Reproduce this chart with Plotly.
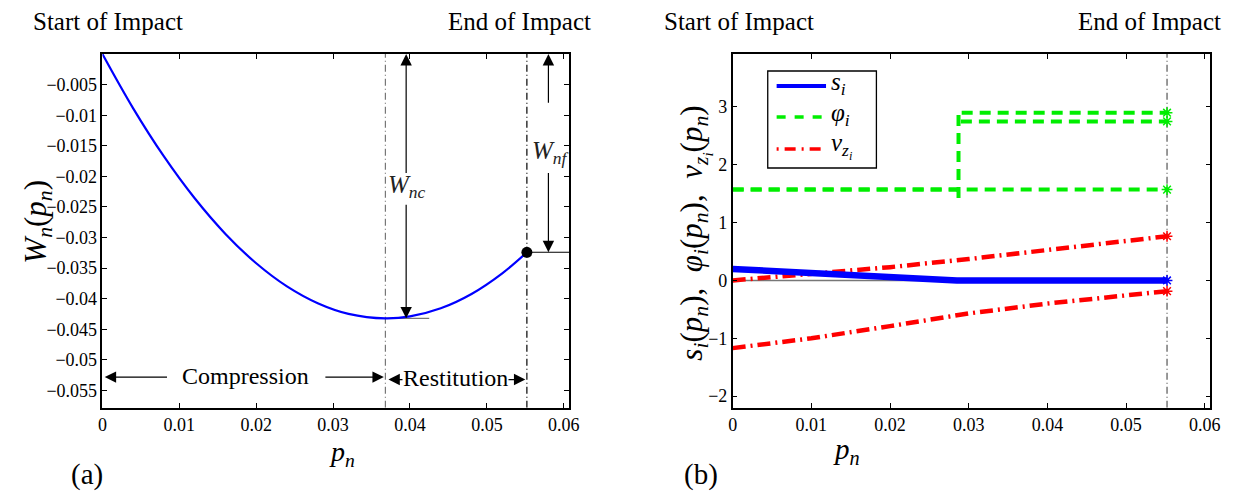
import plotly.graph_objects as go

# ---------------- data ----------------
# panel (a): normal work W_n vs normal impulse p_n
pn_a = [0, 0.004, 0.008, 0.012, 0.016, 0.020, 0.024, 0.028, 0.032, 0.0368,
        0.040, 0.044, 0.048, 0.052, 0.0552]
Wn = [0, -0.00888, -0.01674, -0.02358, -0.02940, -0.03420, -0.03798, -0.04073,
      -0.04247, -0.04321, -0.04288, -0.04155, -0.03921, -0.03584, -0.03241]
p_comp = 0.0368      # end of compression
p_end = 0.0552       # end of impact
W_c = -0.0432        # W_nc level
W_f = -0.0324        # W_nf level
x_max = 0.0607

# panel (b)
s1_p = [0, 0.0285, 0.0552]
s1_v = [0.20, 0.0, 0.0]
phi1_p = [0, 0.0552]
phi1_v = [1.5708, 1.5708]
phi2_p = [0, 0.0286, 0.0287, 0.0287, 0.0290, 0.0552]
phi2_v = [1.5708, 1.5708, 1.42, 2.92, 2.90, 2.90]
phi3_p = [0.0290, 0.0552]
phi3_v = [2.75, 2.75]
vz1_p = [0, 0.01, 0.02, 0.03, 0.04, 0.05, 0.0552]
vz1_v = [0, 0.11, 0.23, 0.37, 0.53, 0.68, 0.764]
vz2_p = [0, 0.01, 0.02, 0.03, 0.04, 0.05, 0.0552]
vz2_v = [-1.17, -1.00, -0.79, -0.57, -0.40, -0.26, -0.185]
end_vals = [0.0, -0.185, 0.764, 1.5708, 2.75, 2.90]
end_cols = ["#0000ff", "#ff0000", "#ff0000", "#00ee00", "#00ee00", "#00ee00"]

legend_names = ["<i>s<sub>i</sub></i>", "<i>\u03c6<sub>i</sub></i>", "<i>v<sub>z<sub>i</sub></sub></i>"]

xticks = [0, 0.01, 0.02, 0.03, 0.04, 0.05, 0.06]
xtick_text = ["0", "0.01", "0.02", "0.03", "0.04", "0.05", "0.06"]
yticks_a = [-0.005, -0.01, -0.015, -0.02, -0.025, -0.03, -0.035, -0.04, -0.045, -0.05, -0.055]
ytick_a_text = ["\u22120.005", "\u22120.01", "\u22120.015", "\u22120.02", "\u22120.025", "\u22120.03",
                "\u22120.035", "\u22120.04", "\u22120.045", "\u22120.05", "\u22120.055"]
yticks_b = [-2, -1, 0, 1, 2, 3]
ytick_b_text = ["\u22122", "\u22121", "0", "1", "2", "3"]

FONT = "Liberation Serif, Times New Roman, DejaVu Serif, serif"
W, H = 1238, 493
OFF = 8  # the page body margin shifts the figure by 8px

GREEN = "#00ee00"
RED = "#ff0000"
BLUE = "#0000ff"
gdash = "11px,7px"
rdash = "13px,5px,2px,5px"

fig = go.Figure()

# ---------------- panel (a) ----------------
fig.add_trace(go.Scatter(x=[p_comp, p_comp], y=[-0.0578, 0], mode="lines",
                         line=dict(color="#777777", width=1.2, dash="7px,3px,1px,3px"),
                         xaxis="x", yaxis="y"))
fig.add_trace(go.Scatter(x=[p_end, p_end], y=[-0.0578, 0], mode="lines",
                         line=dict(color="black", width=1.2, dash="7px,3px,1px,3px"),
                         xaxis="x", yaxis="y"))
fig.add_trace(go.Scatter(x=[p_comp, 0.0425], y=[W_c, W_c], mode="lines",
                         line=dict(color="#777777", width=1.2), xaxis="x", yaxis="y"))
fig.add_trace(go.Scatter(x=[p_end, x_max], y=[W_f, W_f], mode="lines",
                         line=dict(color="black", width=1.2), xaxis="x", yaxis="y"))
fig.add_trace(go.Scatter(x=pn_a, y=Wn, mode="lines", line=dict(color=BLUE, width=2.2, shape="spline"),
                         xaxis="x", yaxis="y"))
fig.add_trace(go.Scatter(x=[p_end], y=[W_f], mode="markers",
                         marker=dict(color="black", size=11), xaxis="x", yaxis="y"))

# ---------------- panel (b) ----------------
fig.add_trace(go.Scatter(x=[p_end, p_end], y=[-2.2, 3.915], mode="lines",
                         line=dict(color="#555555", width=1.2, dash="7px,3px,1px,3px"),
                         xaxis="x2", yaxis="y2"))
fig.add_trace(go.Scatter(x=[0, p_end], y=[0, 0], mode="lines",
                         line=dict(color="#777777", width=1.5), xaxis="x2", yaxis="y2"))
for px_, v_ in [(phi1_p, phi1_v), (phi2_p, phi2_v), (phi3_p, phi3_v)]:
    fig.add_trace(go.Scatter(x=px_, y=v_, mode="lines", line=dict(color=GREEN, width=4, dash=gdash),
                             xaxis="x2", yaxis="y2"))
for px_, v_ in [(vz1_p, vz1_v), (vz2_p, vz2_v)]:
    fig.add_trace(go.Scatter(x=px_, y=v_, mode="lines", line=dict(color=RED, width=4.5, dash=rdash),
                             xaxis="x2", yaxis="y2"))
fig.add_trace(go.Scatter(x=s1_p, y=s1_v, mode="lines", line=dict(color=BLUE, width=6.5),
                         xaxis="x2", yaxis="y2"))
fig.add_trace(go.Scatter(x=[p_end] * len(end_vals), y=end_vals, mode="markers",
                         marker=dict(symbol="asterisk-open", size=9, color=end_cols,
                                     line=dict(width=1.5, color=end_cols)),
                         xaxis="x2", yaxis="y2"))


def px_x(v):
    return (v - OFF) / W


def px_y(v):
    return 1 - (v - OFF) / H


axis_common = dict(showline=True, linecolor="black", linewidth=1.5, mirror="ticks",
                   ticks="inside", ticklen=5, tickcolor="black", showgrid=False, zeroline=False,
                   tickfont=dict(family=FONT, size=18, color="black"))

fig.update_layout(
    width=W, height=H,
    margin=dict(l=0, r=0, t=0, b=0),
    paper_bgcolor="white", plot_bgcolor="white",
    font=dict(family=FONT, color="black"),
    showlegend=False,
    xaxis=dict(domain=[px_x(98.5), px_x(571)], range=[0, x_max], anchor="y",
               tickvals=xticks, ticktext=xtick_text, **axis_common),
    yaxis=dict(domain=[px_y(407.7), px_y(54)], range=[-0.0578, 0], anchor="x",
               tickvals=yticks_a, ticktext=ytick_a_text, **axis_common),
    xaxis2=dict(domain=[px_x(736.5), px_x(1220)], range=[0, x_max], anchor="y2",
                tickvals=xticks, ticktext=xtick_text, **axis_common),
    yaxis2=dict(domain=[px_y(407.7), px_y(54)], range=[-2.2, 3.915], anchor="x2",
                tickvals=yticks_b, ticktext=ytick_b_text, **axis_common),
)

# ---------------- hand-made legend (panel b) ----------------
shapes = []
shapes.append(dict(type="rect", xref="paper", yref="paper",
                   x0=px_x(772), x1=px_x(882), y0=px_y(168), y1=px_y(71),
                   line=dict(color="black", width=1.3), fillcolor="white", layer="above"))
leg_rows = [86, 117, 149]
leg_styles = [dict(color=BLUE, width=4), dict(color=GREEN, width=3.5, dash="9px,9px"),
              dict(color=RED, width=3.5, dash="2px,6px,11px,6px")]
for yr, st in zip(leg_rows, leg_styles):
    shapes.append(dict(type="line", xref="paper", yref="paper",
                       x0=px_x(781), x1=px_x(831), y0=px_y(yr), y1=px_y(yr),
                       line=st, layer="above"))
fig.update_layout(shapes=shapes)

ann = []


def arrow(xh, yh, xt, yt, both=False, color="black"):
    d = dict(x=xh, y=yh, ax=xt, ay=yt, xref="x", yref="y", axref="x", ayref="y",
             text="", showarrow=True, arrowhead=2, arrowsize=1.9, arrowwidth=1.2,
             arrowcolor=color, standoff=0, startstandoff=0)
    if both:
        d.update(arrowside="end+start", startarrowhead=2, startarrowsize=1.9)
    ann.append(d)


x_wnc = 0.0395
x_wnf = 0.0580
arrow(x_wnc, 0, x_wnc, -0.0197)
arrow(x_wnc, W_c, x_wnc, -0.0244)
arrow(x_wnf, 0, x_wnf, -0.0082)
arrow(x_wnf, W_f, x_wnf, -0.0192)
arrow(0.0003, -0.0528, 0.0086, -0.0528)
arrow(p_comp - 0.0002, -0.0528, 0.0288, -0.0528)
arrow(p_end - 0.0002, -0.0532, p_comp + 0.0002, -0.0532, both=True)

ann.append(dict(x=0.0396, y=-0.0216, xref="x", yref="y", showarrow=False,
                text="<i>W<sub>nc</sub></i>", font=dict(family=FONT, size=25, color="#222")))
ann.append(dict(x=0.0583, y=-0.0161, xref="x", yref="y", showarrow=False,
                text="<i>W<sub>nf</sub></i>", font=dict(family=FONT, size=25, color="#222")))
ann.append(dict(x=0.0186, y=-0.0526, xref="x", yref="y", showarrow=False,
                text="Compression", font=dict(family=FONT, size=24, color="black")))
ann.append(dict(x=0.0459, y=-0.0530, xref="x", yref="y", showarrow=False, bgcolor="white",
                borderpad=0, text="Restitution", font=dict(family=FONT, size=24, color="black")))


def ptext(x, y, text, size, xanchor="center", angle=0):
    ann.append(dict(x=px_x(x), y=px_y(y), xref="paper", yref="paper", text=text,
                    showarrow=False, xanchor=xanchor, yanchor="middle", textangle=angle,
                    borderpad=0, font=dict(family=FONT, size=size, color="black")))


ptext(27, 22, "Start of Impact", 25, "left")
ptext(594, 22, "End of Impact", 25, "right")
ptext(666, 22, "Start of Impact", 25, "left")
ptext(1232, 22, "End of Impact", 25, "right")
ptext(341, 453, "<i>p<sub>n</sub></i>", 28)
ptext(852, 451, "<i>p<sub>n</sub></i>", 29)
ptext(83, 474, "(a)", 29)
ptext(704, 474, "(b)", 29)
ptext(33, 222, "<i>W<sub>n</sub></i>(<i>p<sub>n</sub></i>)", 31, angle=-90)
ptext(698, 233, "<i>s<sub>i</sub></i>(<i>p<sub>n</sub></i>),  <i>\u03c6<sub>i</sub></i>(<i>p<sub>n</sub></i>),  "
      "<i>v<sub>z<sub>i</sub></sub></i>(<i>p<sub>n</sub></i>)", 31, angle=-90)

# legend labels
for yr, name in zip([84, 115, 146], legend_names):
    ptext(835, yr, name, 25, "left")

fig.update_layout(annotations=ann)

fig.write_html("out.html")
